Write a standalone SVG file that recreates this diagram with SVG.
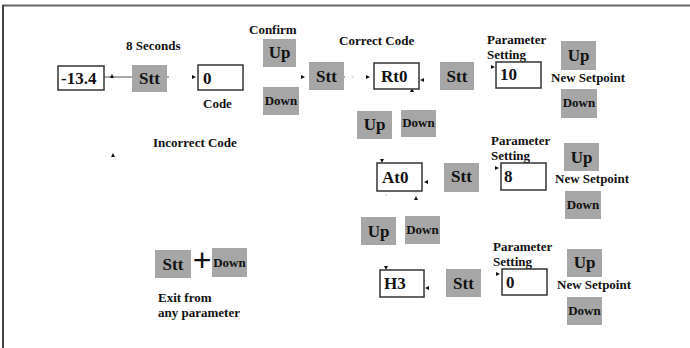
<svg xmlns="http://www.w3.org/2000/svg" width="690" height="348" viewBox="0 0 690 348">
<style>
text{font-family:"Liberation Serif","Times New Roman",serif;font-weight:bold;fill:#111}
.big{font-size:17px}
.lbl{font-size:13px}
.dn{font-size:13px}
.c{text-anchor:middle}
.wb{fill:#fff;stroke:#333;stroke-width:1.5}
.gb{fill:#a6a6a6;stroke:none}
.ln{stroke:#555;stroke-width:1;fill:none}
.ah{fill:#111}
</style>
<rect width="690" height="348" fill="#fff"/>
<g id="frame">
<line x1="2" y1="5.5" x2="690" y2="5.5" stroke="#666" stroke-width="2"/>
<line x1="3" y1="5" x2="3" y2="348" stroke="#444" stroke-width="2"/>
</g>
<g id="labels">
<text class="lbl" x="126" y="50">8 Seconds</text>
<text class="lbl" x="249" y="34">Confirm</text>
<text class="lbl" x="339" y="45">Correct Code</text>
<text class="lbl" x="203" y="108">Code</text>
<text class="lbl" x="153" y="147">Incorrect Code</text>
<text class="lbl" x="158" y="302">Exit from</text>
<text class="lbl" x="158" y="317">any parameter</text>
<text class="lbl" x="487" y="44">Parameter</text>
<text class="lbl" x="487" y="59">Setting</text>
<text class="lbl" x="551" y="82">New Setpoint</text>
<text class="lbl" x="491" y="145">Parameter</text>
<text class="lbl" x="491" y="160">Setting</text>
<text class="lbl" x="555" y="183">New Setpoint</text>
<text class="lbl" x="493" y="251">Parameter</text>
<text class="lbl" x="493" y="266">Setting</text>
<text class="lbl" x="557" y="289">New Setpoint</text>
</g>
<g id="connectors">
<line class="ln" x1="104" y1="77" x2="132" y2="77"/>
<line class="ln" x1="167" y1="77" x2="169" y2="77"/>
<line class="ln" x1="343" y1="77" x2="345" y2="77"/>
<circle cx="353" cy="77" r="0.6" fill="#777"/>
<circle cx="386" cy="195" r="0.6" fill="#777"/>
<polygon class="ah" points="110,78 114,78 112,74"/>
<polygon class="ah" points="192,75 192,79 196,77"/>
<polygon class="ah" points="301,75 301,79 305,77"/>
<polygon class="ah" points="366,75 366,79 370,77"/>
<polygon class="ah" points="420,80 424,78 424,82"/>
<polygon class="ah" points="410,92 414,92 412,88"/>
<polygon class="ah" points="491,65 491,69 495,67"/>
<polygon class="ah" points="380,159 384,159 382,163"/>
<polygon class="ah" points="424,182 428,180 428,184"/>
<polygon class="ah" points="414,200 418,200 416,196"/>
<polygon class="ah" points="495,166 495,170 499,168"/>
<polygon class="ah" points="384,266 388,266 386,270"/>
<polygon class="ah" points="425,288 429,286 429,290"/>
<polygon class="ah" points="496,272 496,276 500,274"/>
<polygon class="ah" points="111,157 115,157 113,153"/>
</g>
<g id="n_temp"><rect class="wb" x="58" y="66" width="46" height="24"/><text class="big" x="61" y="84">-13.4</text></g>
<g id="n_stt1"><rect class="gb" x="132" y="65" width="35" height="27"/><text class="big c" x="149.5" y="84">Stt</text></g>
<g id="n_code"><rect class="wb" x="198" y="65" width="45" height="25"/><text class="big" x="203" y="84">0</text></g>
<g id="n_up1"><rect class="gb" x="263" y="39" width="33" height="28"/><text class="big c" x="279.5" y="58">Up</text></g>
<g id="n_down1"><rect class="gb" x="263" y="87" width="36" height="28"/><text class="dn c" x="281" y="105">Down</text></g>
<g id="n_stt2"><rect class="gb" x="309" y="62" width="35" height="28"/><text class="big c" x="326.5" y="82">Stt</text></g>
<g id="n_rt0"><rect class="wb" x="374" y="63" width="45" height="26"/><text class="big" x="381" y="82">Rt0</text></g>
<g id="n_stt3"><rect class="gb" x="440" y="62" width="34" height="28"/><text class="big c" x="457" y="82">Stt</text></g>
<g id="n_up2"><rect class="gb" x="357" y="111" width="35" height="28"/><text class="big c" x="374.5" y="130">Up</text></g>
<g id="n_down2"><rect class="gb" x="401" y="110" width="35" height="27"/><text class="dn c" x="418.5" y="127">Down</text></g>
<g id="n_p10"><rect class="wb" x="496" y="62" width="45" height="26"/><text class="big" x="500" y="80">10</text></g>
<g id="n_up3"><rect class="gb" x="561" y="41" width="35" height="29"/><text class="big c" x="578.5" y="61">Up</text></g>
<g id="n_down3"><rect class="gb" x="561" y="89" width="36" height="29"/><text class="dn c" x="579" y="107">Down</text></g>
<g id="n_at0"><rect class="wb" x="377" y="163" width="45" height="28"/><text class="big" x="382" y="183">At0</text></g>
<g id="n_stt4"><rect class="gb" x="444" y="163" width="35" height="29"/><text class="big c" x="461.5" y="182">Stt</text></g>
<g id="n_p8"><rect class="wb" x="501" y="163" width="45" height="27"/><text class="big" x="504" y="182">8</text></g>
<g id="n_up4"><rect class="gb" x="564" y="143" width="35" height="28"/><text class="big c" x="581.5" y="163">Up</text></g>
<g id="n_down4"><rect class="gb" x="565" y="191" width="36" height="28"/><text class="dn c" x="583" y="209">Down</text></g>
<g id="n_up5"><rect class="gb" x="361" y="217" width="35" height="28"/><text class="big c" x="378.5" y="237">Up</text></g>
<g id="n_down5"><rect class="gb" x="405" y="216" width="35" height="28"/><text class="dn c" x="422.5" y="234">Down</text></g>
<g id="n_h3"><rect class="wb" x="380" y="270" width="44" height="27"/><text class="big" x="384" y="289">H3</text></g>
<g id="n_stt5"><rect class="gb" x="446" y="269" width="35" height="28"/><text class="big c" x="463.5" y="289">Stt</text></g>
<g id="n_p0"><rect class="wb" x="502" y="269" width="45" height="26"/><text class="big" x="506" y="288">0</text></g>
<g id="n_up6"><rect class="gb" x="567" y="249" width="35" height="28"/><text class="big c" x="584.5" y="268">Up</text></g>
<g id="n_down6"><rect class="gb" x="567" y="297" width="35" height="28"/><text class="dn c" x="584.5" y="315">Down</text></g>
<g id="n_exit">
<rect class="gb" x="155" y="250" width="36" height="28"/><text class="big c" x="173" y="270">Stt</text>
<text x="202" y="271" style="font-family:'Liberation Sans',Arial,sans-serif;font-weight:normal;font-size:32px;text-anchor:middle">+</text>
<rect class="gb" x="212" y="248" width="35" height="29"/><text class="dn c" x="229.5" y="267">Down</text>
</g>
</svg>
